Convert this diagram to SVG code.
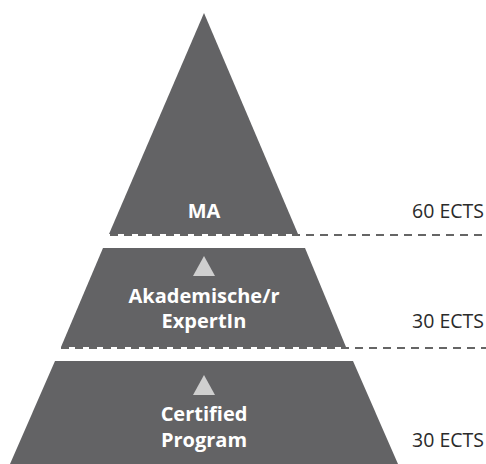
<svg xmlns="http://www.w3.org/2000/svg" width="486" height="464" viewBox="0 0 486 464">
<style>
.tier{fill:#636365}
.arrow{fill:#cfcfcf}
.lbl{font-family:"Open Sans","Liberation Sans",sans-serif;font-weight:bold;font-size:20px;fill:#ffffff;text-anchor:middle}
.ects{font-family:"Open Sans","Liberation Sans",sans-serif;font-size:19.5px;fill:#2b2b2b;text-anchor:end}
.dash{stroke:#333333;stroke-width:1.3;stroke-dasharray:8 6;fill:none}
</style>
<rect width="486" height="464" fill="#ffffff"/>
<g id="ma">
<polygon class="tier" points="204,13 298,234 109,234"/>
<text class="lbl" x="204" y="218">MA</text>
<text class="ects" x="484" y="218">60 ECTS</text>
</g>
<g id="expert">
<polygon class="tier" points="103,248 305,248 346,347 61,347"/>
<polygon class="arrow" points="204,256 215,276 193,276"/>
<text class="lbl" x="204" y="303">Akademische/r</text>
<text class="lbl" x="204" y="328">ExpertIn</text>
<text class="ects" x="484" y="328">30 ECTS</text>
</g>
<g id="certified">
<polygon class="tier" points="55,361 353,361 398,464 10,464"/>
<polygon class="arrow" points="204,375 215,395 193,395"/>
<text class="lbl" x="204" y="421">Certified</text>
<text class="lbl" x="204" y="447">Program</text>
<text class="ects" x="484" y="447">30 ECTS</text>
</g>
<g id="connectors">
<line class="dash" x1="110" y1="235" x2="486" y2="235"/>
<line class="dash" x1="61" y1="348" x2="486" y2="348"/>
</g>
</svg>
